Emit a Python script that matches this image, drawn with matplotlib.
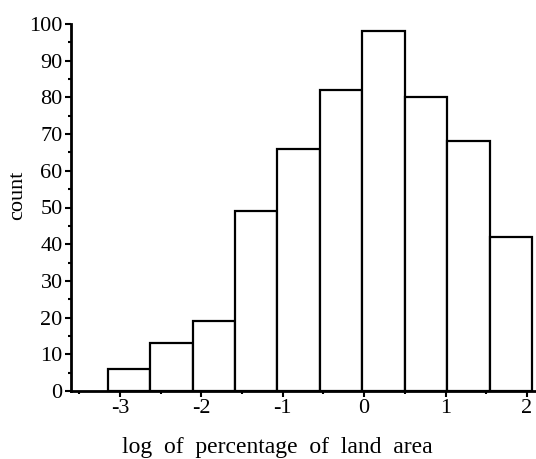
import matplotlib
matplotlib.use("Agg")
import matplotlib.pyplot as plt
import numpy as np
from matplotlib.ticker import MultipleLocator

# histogram
bin_start = -3.15
bin_width = 0.521
counts = [6, 13, 19, 49, 66, 82, 98, 80, 68, 42]
edges = bin_start + bin_width * np.arange(len(counts) + 1)

plt.rcParams['font.family'] = ['Liberation Serif', 'DejaVu Serif']
plt.rcParams['axes.unicode_minus'] = False

fig = plt.figure(figsize=(5.36, 4.59), dpi=100)
ax = fig.add_axes([71 / 536, 1 - 391 / 459, 1 - 71 / 536, (391 - 24) / 459])

ax.bar(edges[:-1], counts, width=bin_width, align='edge',
       facecolor='white', edgecolor='black', linewidth=1.6)

ax.set_xlim(-3.6, 2.11)
ax.set_ylim(0, 100)
ax.xaxis.set_major_locator(MultipleLocator(1))
ax.xaxis.set_minor_locator(MultipleLocator(0.5))
ax.yaxis.set_major_locator(MultipleLocator(10))
ax.yaxis.set_minor_locator(MultipleLocator(5))

for s in ['top', 'right']:
    ax.spines[s].set_visible(False)
for s in ['left', 'bottom']:
    ax.spines[s].set_linewidth(2)

ax.tick_params(which='major', length=4, width=1.5, pad=2, labelsize=16)
ax.tick_params(which='minor', length=2.5, width=1.5)

ax.set_xlabel('log  of  percentage  of  land  area', fontsize=17, va='center')
ax.xaxis.set_label_coords(0.443, -0.153)
ax.set_ylabel('count', fontsize=16, va='center')
ax.yaxis.set_label_coords(-0.114, 0.534)

plt.savefig('out.png', dpi=100)
